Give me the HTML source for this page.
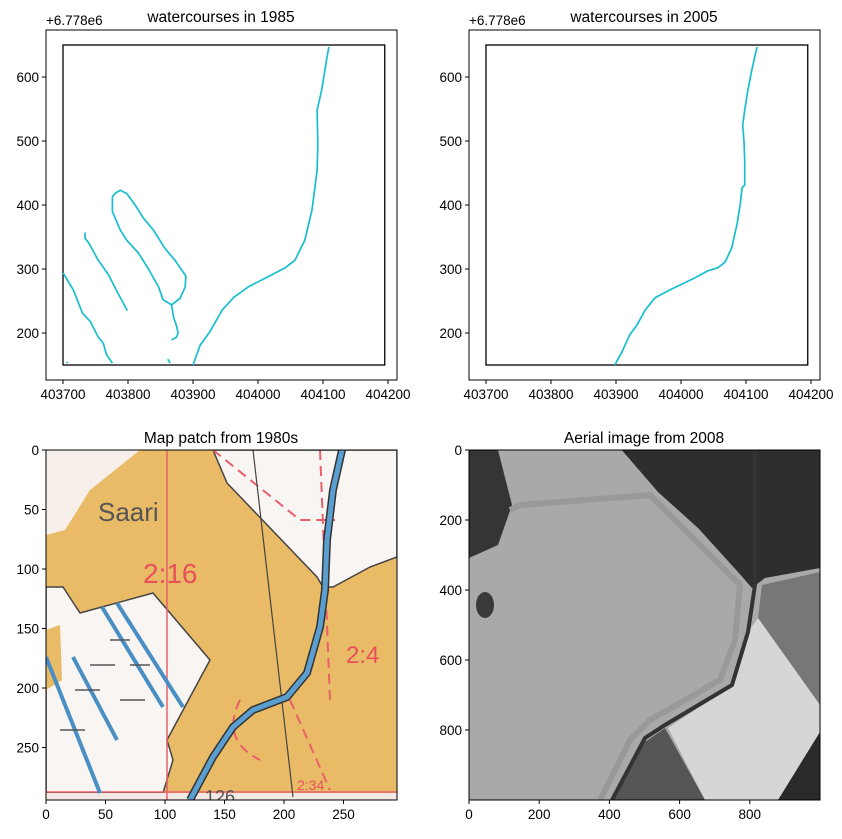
<!DOCTYPE html>
<html><head><meta charset="utf-8"><style>
body{margin:0;background:#fff;}
svg text{font-family:"Liberation Sans","DejaVu Sans",sans-serif;fill:#000;}
</style></head><body>
<svg id="fig" width="842" height="834" xmlns="http://www.w3.org/2000/svg">
<rect width="842" height="834" fill="#fff"/>
<!-- Map patch -->
<g>
<clipPath id="c3"><rect x="46" y="450" width="351" height="350"/></clipPath>
<g clip-path="url(#c3)">
<rect x="46" y="450" width="351" height="350" fill="#e9bb66"/>
<polygon points="253,450 397,450 397,557 370,567 333,587 323,587 317,577 227,483 213,450" fill="#f8f5f2" stroke="#444" stroke-width="1.5"/>
<polygon points="46,587 63,587 80,613 153,593 210,660 167,740 173,760 163,793 46,793" fill="#f8f5f2" stroke="#444" stroke-width="1.5"/>
<polygon points="46,450 140,450 90,490 65,530 46,535" fill="#f6efea"/>
<polygon points="46,630 60,625 62,680 46,690" fill="#e9bb66"/>
<rect x="46" y="793" width="351" height="8" fill="#f3e9e4"/>
<line x1="167" y1="450" x2="167" y2="800" stroke="#e8606a" stroke-width="1.5"/>
<line x1="46" y1="792" x2="397" y2="792" stroke="#e8606a" stroke-width="1.5"/>
<path d="M213,450 L300,520 L335,520 M320,450 L330,700 M240,700 Q220,740 260,760 M290,700 L330,790" stroke="#e8606a" stroke-width="2" fill="none" stroke-dasharray="10,6"/>
<line x1="253" y1="450" x2="293" y2="797" stroke="#444" stroke-width="1.2"/>
<g stroke="#4a8fc4" stroke-width="4" fill="none">
<line x1="117" y1="603" x2="183" y2="707"/><line x1="102" y1="607" x2="163" y2="707"/>
<line x1="46" y1="657" x2="100" y2="793"/><line x1="73" y1="657" x2="117" y2="740"/>
</g>
<path d="M342,450 L333,490 L327,540 L325,590 L320,627 L307,673 L287,697 L253,710 L233,727 L213,757 L190,800" stroke="#333" stroke-width="8" fill="none"/>
<path d="M342,450 L333,490 L327,540 L325,590 L320,627 L307,673 L287,697 L253,710 L233,727 L213,757 L190,800" stroke="#5a9fd0" stroke-width="5" fill="none"/>
<g stroke="#555" stroke-width="1.5"><line x1="110" y1="640" x2="130" y2="640"/><line x1="90" y1="665" x2="115" y2="665"/><line x1="75" y1="690" x2="100" y2="690"/><line x1="130" y1="665" x2="150" y2="665"/><line x1="60" y1="730" x2="85" y2="730"/><line x1="120" y1="700" x2="145" y2="700"/></g>
<text x="98" y="521" font-size="26" style="fill:#555">Saari</text>
<text x="143" y="583" font-size="28" style="fill:#e8505a">2:16</text>
<text x="346" y="663" font-size="24" style="fill:#e8505a">2:4</text>
<text x="297" y="790" font-size="14" style="fill:#e8505a">2:34</text>
<text x="205" y="803" font-size="18" style="fill:#555">126</text>
</g></g>
<!-- Aerial -->
<g>
<clipPath id="c4"><rect x="469" y="450" width="351" height="350"/></clipPath>
<g clip-path="url(#c4)">
<rect x="469" y="450" width="351" height="350" fill="#a9a9a9"/>
<polygon points="621.7,450 820,450 820,568 765,578 752,588 738,572 698,528 658,492" fill="#2e2e2e"/>
<polygon points="469,450 498,450 512,505 498,545 469,558" fill="#353535"/>
<polygon points="762,585 820,572 820,705 758,618" fill="#777"/>
<polygon points="758,618 820,705 820,732 778,800 705,800 668,728 732,685 748,632" fill="#d6d6d6"/>
<polygon points="665,728 705,800 612,800 645,742" fill="#555"/>
<polygon points="820,732 778,800 820,800" fill="#2a2a2a"/>
<polyline points="755,452 755,585 748,632 732,685 665,725 645,738 612,800" stroke="#333" stroke-width="4" fill="none"/>
<polyline points="510,510 520,505 650,495 740,585 735,640 720,680 650,720 630,740 600,800" stroke="#999" stroke-width="6" fill="none"/>
<ellipse cx="485" cy="605" rx="9" ry="13" fill="#3a3a3a"/>
</g></g>
<g id="axes" font-size="13.5"></g>
</svg>
<script>
// 1985 watercourses (data coords)
const main85X=[403900,403911,403926,403945,403963,403985,404006,404042,404057,404072,404083,404088,404091,404092,404091,404098,404103,404106,404109];
const main85Y=[150,181,202,236,256,272,283,302,314,345,392,431,455,494,548,580,611,630,647];
const loopX=[403776,403776,403788,403798,403816,403831,403847,403854,403867,403880,403888,403889,403872,403857,403839,403824,403811,403798,403788,403780,403776];
const loopY=[413,390,361,345,325,301,272,252,244,254,272,289,314,332,361,379,400,418,423,418,413];
const branchX=[403867,403870,403875,403877,403875,403867];
const branchY=[244,225,210,200,194,189];
const diagX=[403734,403734,403740,403754,403770,403783,403799];
const diagY=[357,348,340,314,291,265,235];
const leftX=[403700,403716,403730,403742,403754,403762,403767,403776];
const leftY=[294,267,231,218,194,184,166,153];
const bitAX=[403861,403865], bitAY=[159,153];
const bitBX=[403706,403707], bitBY=[155,153];
// 2005 watercourse
const main05X=[403898,403909,403921,403932,403945,403960,403986,404021,404041,404057,404068,404078,404086,404091,404094,404098,404098,404097,404095,404098,404103,404109,404114,404117];
const main05Y=[150,170,197,212,236,255,269,286,297,302,311,333,369,400,427,431,470,497,525,548,580,611,634,647];
const xTicksTop=[403700,403800,403900,404000,404100,404200];
const yTicksTop=[200,300,400,500,600];
const mapTicks=[0,50,100,150,200,250];
const aerialTicks=[0,200,400,600,800];

const NS="http://www.w3.org/2000/svg";
const root=document.getElementById('axes');
function mk(tag,attrs,parent){const e=document.createElementNS(NS,tag);for(const k in attrs)e.setAttribute(k,attrs[k]);(parent||root).appendChild(e);return e;}

function frame(x0,y0,w,h,name){
  const r=mk('rect',{x:x0,y:y0,width:w,height:h,fill:'none',stroke:'#000','stroke-width':1});
  
  
}
function xtick(px,y,label){
  mk('line',{x1:px,y1:y,x2:px,y2:y+4,stroke:'#000'});
  const t=mk('text',{x:px,y:y+19,'text-anchor':'middle'});t.textContent=label;
  
  
}
function ytick(x,py,label){
  mk('line',{x1:x,y1:py,x2:x-4,y2:py,stroke:'#000'});
  const t=mk('text',{x:x-7,y:py+5,'text-anchor':'end'});t.textContent=label;
  
  
}
function title(cx,y,s){
  const t=mk('text',{x:cx,y:y,'text-anchor':'middle','font-size':15.5});t.textContent=s;
  
  
}

function topPanel(ox,titleText,series){
  const sx=v=>ox+17+(v-403700)*0.65;
  const sy=v=>365-(v-150)*0.64;
  const b=mk('rect',{x:sx(403700),y:sy(650),width:sx(404195)-sx(403700),height:sy(150)-sy(650),fill:'none',stroke:'#000','stroke-width':1.3});
  
  
  series.forEach(([xs,ys])=>{
    const p=mk('polyline',{points:xs.map((x,i)=>sx(x)+','+sy(ys[i])).join(' '),fill:'none',stroke:'#17becf','stroke-width':1.7,'stroke-linejoin':'round'});
    
    
  });
  frame(ox,30,351,350,'axes-frame');
  xTicksTop.forEach(v=>xtick(sx(v),380,String(v)));
  yTicksTop.forEach(v=>ytick(ox,sy(v),String(v)));
  const o=mk('text',{x:ox,y:25});o.textContent='+6.778e6';
  
  
  title(ox+175,22,titleText);
}
topPanel(46,'watercourses in 1985',[[main85X,main85Y],[loopX,loopY],[branchX,branchY],[diagX,diagY],[leftX,leftY],[bitAX,bitAY],[bitBX,bitBY]]);
topPanel(469,'watercourses in 2005',[[main05X,main05Y]]);

frame(46,450,351,350,'map-axes-frame');
mapTicks.forEach(v=>{xtick(46+v*1.19,800,String(v));ytick(46,450+v*1.19,String(v));});
title(221,443,'Map patch from 1980s');

frame(469,450,351,350,'aerial-axes-frame');
aerialTicks.forEach(v=>{xtick(469+v*0.351,800,String(v));ytick(469,450+v*0.35,String(v));});
title(644,443,'Aerial image from 2008');
</script>
</body></html>
